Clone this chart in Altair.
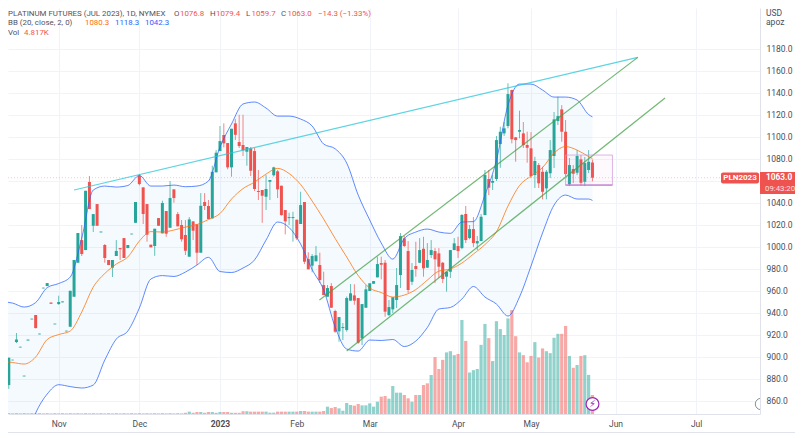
import altair as alt
import pandas as pd

opens = [904,885,874.5,897,913.6,908.7,882.4,915,934.2,938.2,
920.6,962.4,964.5,949.5,929.7,948.1,949.7,923.3,927.5,954.8,
985.7,1006.3,997.2,1059.1,1019.3,1039,1013.3,1001.8,988.2,981.2,
991.8,999,1008.1,999,1011.5,1022,1064.8,1054.2,1039,1002.1,
1000.9,1026.3,1012.4,1032.7,1017.5,1052.4,1029.9,1020,1010.9,991.2,
1023.3,1020.6,994.8,1040.9,1037.3,1026,1067.9,1087.2,1101.8,1094.5,
1072.4,1112.4,1095.4,1092.7,1086.6,1089.7,1087.2,1050.9,1051.8,1045.7,
1059.3,1065.2,1068.8,1055.7,1033.6,1026.3,1026.3,1024.8,1020.9,1040.9,
989,983,987,983.6,965.4,954.8,964.5,941.8,923.3,926.3,
924.5,951.2,956,953.6,917,944.8,960,966.6,972.4,985.4,
985.7,938.1,943.3,951.8,974.5,1007.9,996.3,968.4,982.7,985.7,
998.4,981.2,992.7,996.3,994.2,985.7,973,977.5,997.2,1000.9,
999,1030,1008.1,1016.3,1003.3,1005.4,1029,1061.8,1058.4,1061.8,
1093.6,1103.3,1110,1142.7,1099.7,1104.8,1103.3,1092.7,1089.7,1065.4,
1074.5,1068.4,1053.3,1067,1082.7,1114.5,1125.1,1104.8,1057,1070.9,
1067.5,1079.7,1059.3,1070,1076.8]
highs = [904,885.5,899.5,897.5,921.8,909.3,883,915.8,934.8,938.2,
921.2,963,967.2,949.5,930.3,955.7,950.5,923.9,960.2,988.2,
1012.7,1020,1051.1,1064.5,1029.9,1039,1014,1002.7,988.2,988.2,
1006.3,999,1008.1,1001.8,1012.1,1040.9,1066.3,1054.2,1039,1002.1,
1016.6,1026.3,1042.1,1032.7,1060,1052.4,1031.8,1024.5,1024.5,1027.2,
1023.3,1020.6,1049,1049,1042.7,1073.9,1088.1,1110,1112.4,1094.5,
1107.5,1116.3,1120.2,1120.2,1090.9,1090.9,1090,1070,1051.8,1065.4,
1060.9,1073,1070,1055.7,1033.6,1031.2,1032,1024.8,1050.2,1040.9,
995.2,993.6,1000.9,994.8,977.5,965.4,967.2,943,936.3,930.9,
955,966.3,966.1,953.6,948.1,965.4,967,969,991.2,991.2,
988.2,951.8,954.3,980.9,1012.7,1010,1005.4,985.4,1004.8,1008.1,
1009.3,1003.6,1006.3,999,999,986.3,977.5,997.2,1008.1,1009.3,
1030,1037.3,1020,1027.2,1010,1030,1070,1070,1065.4,1100.9,
1109.3,1113.6,1148.8,1143,1100,1123.9,1113.6,1104.8,1104.5,1082,
1076.3,1073,1070,1097.2,1122.7,1136.6,1129,1115.4,1080.9,1074.5,
1088.1,1083.6,1081.8,1088.1,1079.4]
lows = [903,885,871,897,912.7,908.7,882.4,915,934.2,926,
920.6,962.4,964.5,948.4,929.7,947.5,949.7,923.3,927.5,954.8,
985.7,991.8,997.2,1034.5,1013.6,1019.3,1013.3,985.7,983.6,972.7,
991.8,988.2,990,999,1011.5,1022,1056,1020.9,1004.8,999.7,
992,1019.3,1012.4,1009.3,1017.5,1040.2,1018.8,1004.8,992.7,991.2,
1006.3,983.6,994.8,1033.6,1025.4,1026,1067.9,1087.2,1090.6,1070.6,
1063.9,1097.2,1090,1082.7,1073.9,1064.5,1050.9,1042.7,1022,1033.6,
1042.7,1064,1044.5,1028.5,1011.5,1020,1004.8,1006.3,1020.9,984.5,
979.7,977,987,967.2,956.3,954.8,944.8,922,913.9,915.4,
923,951.2,947.5,912,910.9,944.8,960,966.6,972.4,970.6,
936.6,937.3,940,944.5,962.7,1000,958.2,965.4,973,985.4,
973,980.9,990,967.2,971.8,967.2,959.4,971.8,997.2,990,
998,1003.6,1007,1000,997.2,1005.4,1029,1047.2,1051.8,1060,
1072,1101,1108,1094.2,1077.5,1098.8,1090,1076.6,1062.7,1053.6,
1053.6,1043.3,1043.3,1062.7,1071.8,1110.9,1095.7,1062.7,1055.4,1058.1,
1065.4,1056,1055.4,1067.2,1059.7]
closes = [903,885.5,899.3,897.5,915.9,909.3,883,915.8,934.8,926.3,
921.2,963,967.2,948.4,930.3,950,950.5,923.9,960.2,988.2,
1012.7,993.6,1051.1,1034.5,1029.9,1019.3,1014,990,983.6,988.2,
996.4,998,990,1001.8,1012.1,1040.9,1057.2,1030,1011.2,999.7,
1016.6,1019.3,1040,1012.1,1044.5,1044.5,1018.8,1007,996.6,1025.1,
1014.8,994.8,1037.5,1037.3,1025.4,1068.4,1085.7,1096.3,1094.2,1072.4,
1107.5,1102,1091.8,1087.9,1090.9,1069.3,1052.7,1050,1046.6,1052.7,
1060.9,1072.4,1052.4,1029,1023.3,1027.2,1027.2,1007.9,1038.1,986.6,
979.7,991.8,992.4,970,956.3,962.7,944.8,923,936.3,927.2,
953.6,957.9,951.2,913,948.1,961.5,967,969,984.5,983.9,
941.2,945.4,954.3,965.4,1009.9,1000.9,960.9,979.1,980,997.2,
980.6,988.2,997.2,988.8,982.1,970.9,977.5,997.2,1003.3,996.3,
1029.1,1006.3,1016.3,1003.6,1005.4,1027.5,1065.4,1053.9,1060,1097.2,
1104.8,1107.9,1139,1097.9,1097.2,1106.3,1092.7,1090.2,1064.5,1078.2,
1057.9,1050.2,1068.4,1088.1,1116,1119,1104.8,1066.3,1074.5,1066.6,
1082.7,1058.4,1076.3,1077.5,1063]
volumes = [.2,.15,.2,.15,.2,.15,.2,.15,.2,.15,
.2,.15,.2,.15,.2,.15,.2,.15,.2,.15,
.2,.15,.2,.15,.2,.15,.2,.15,.2,.15,
.2,.15,.2,.15,.2,.15,.2,.15,.2,.15,
.2,.15,.2,.15,.2,.15,.2,.15,.3,.6,
.3,.5,.5,.3,.5,.5,.3,.5,.5,.5,
.3,.3,.3,.7,.7,.6,.6,.6,.6,.6,
.34,.34,.6,.6,.6,.6,.6,.6,.76,.76,
.6,.6,.6,.6,.76,1.86,1.5,1.77,1.43,.84,
2.78,2.28,2.11,2.53,2.19,2.19,2.7,1.86,3.12,4.39,
4.56,3.88,7.09,5.4,5.4,4.81,3.97,3.12,4.81,4.81,
7.34,7.76,9.87,14.4,11.4,13.7,15.6,15.9,14.9,15.2,
23.8,18.5,10.5,11.1,11.4,17.5,22.8,19.2,13.4,23.5,
21.5,20,24.2,26.3,19.7,15.6,14.9,13.1,14.7,18.2,
14.3,16.6,15.9,15.4,19.3,20.3,20.3,22.3,14.7,11.7,
12.4,14.7,14.9,9.9,4.817]
# volume colour of the last 70 bars (u = teal, d = red)
vol_dirs_list = ("u d d u u u u d d u u u u u d d u u u u d d u d u d d u d d d u u u d u d u u u u u d u u u u u d d u d d d u d "
                 "d u u u u d d u d u d u u d").split()

bb_index = list(range(0, 154, 3)) + [154]
bb_upper = [950.4,949,945.4,949.5,963.1,966.8,972.7,1008.1,1051.8,1055.4,1054.5,1055.9,1065,
1055.4,1055.4,1056.3,1054.8,1055.4,1060,1090.9,1111.8,1130,1131.8,1126.3,1119,1119,1116.3,
1110,1093.6,1089.3,1076.3,1047.2,1024.5,1003.6,989,1007.7,1013.6,1016.3,1013.6,1012.4,
1022.7,1023.1,1047.2,1079,1129,1148.1,1148.1,1142.7,1136.3,1136.3,1133.6,1120.4,1118.3]
bb_lower = [797.2,806.3,820,849,866.3,874.8,873.1,871.8,874.5,897.2,916.3,923.6,944.5,970.9,
974,973.2,977.2,983.6,990.6,977.7,976.8,980.9,988.2,1006.3,1022.7,1017.7,1002.7,979.5,960.9,
927.2,907.2,905.4,915.4,915,915.9,909.5,914.5,926.8,943.6,945,952.7,964.1,954.5,948.1,937.2,
954.5,982.7,1012.7,1038.1,1047.2,1043.6,1043.6,1042.3]
bb_basis = [896.3,895,893.6,900,915.9,920.4,923.6,940.9,963.6,975.9,984.5,990.9,1005.4,1014,
1013.6,1015.4,1018.1,1020.4,1025,1030.4,1043.6,1053.1,1059,1066.3,1071.5,1066.8,1056.8,1041.8,
1025.4,1007.7,990.9,974,962.7,958.6,954.5,956.3,961.3,969.9,978.1,980,985.4,993.6,1002.2,
1013.9,1037.2,1055.9,1064.5,1072.2,1085.4,1091.3,1088.1,1082.2,1080.3]

month_ticks = [15, 36, 57, 77, 96, 119, 138, 160, 181]
month_names = ["Nov", "Dec", "2023", "Feb", "Mar", "Apr", "May", "Jun", "Jul"]
price_ticks = list(range(860, 1200, 20))

UP, DOWN = "#26a69a", "#ef5350"
GRID = "#f0f3fa"
FONT = "Roboto"
W, H = 752, 406
X_DOM = [1.797, 197.63]
Y_DOM = [848.18, 1217.27]

n = len(opens)
dirs = ["u" if closes[i] >= opens[i] else "d" for i in range(n)]
vol_dirs = dirs[:n - len(vol_dirs_list)] + vol_dirs_list
candles = pd.DataFrame({"i": range(n), "o": opens, "h": highs, "l": lows, "c": closes,
                        "v": volumes, "dir": dirs, "vdir": vol_dirs})
bb = pd.DataFrame({"i": bb_index, "u": bb_upper, "l": bb_lower, "b": bb_basis})

x_scale = alt.Scale(domain=X_DOM, nice=False, zero=False)
y_scale = alt.Scale(domain=Y_DOM, nice=False, zero=False)
col_scale = alt.Scale(domain=["u", "d"], range=[UP, DOWN])

label_expr = "{" + ",".join(f"'{t}':'{m}'" for t, m in zip(month_ticks, month_names)) + "}[datum.value]"
x_axis = alt.Axis(values=month_ticks, labelExpr=label_expr, grid=True, gridColor=GRID, gridWidth=1,
                  domainColor="#dfe2ea", ticks=False, title=None, labelColor="#4a4e59",
                  labelFontSize=8.5, labelFont=FONT, labelPadding=5, labelFlush=False,
                  labelFontWeight={"condition": {"test": "datum.value==57", "value": "bold"}, "value": "normal"})
y_axis = alt.Axis(orient="right", values=price_ticks, format=".1f", grid=True, gridColor=GRID, gridWidth=1,
                  domainColor="#dfe2ea", ticks=False, title=None, labelColor="#4a4e59",
                  labelFontSize=8.5, labelFont=FONT, labelPadding=6)
X = alt.X("i:Q", scale=x_scale, axis=x_axis)
def Y(f):
    return alt.Y(f, scale=y_scale, axis=y_axis)

vol = alt.Chart(candles).transform_calculate(
    vp=f"{Y_DOM[0]} + datum.v * 3.95 / 1.1"
).mark_rule(strokeWidth=3.2, opacity=0.5, clip=True).encode(
    x=X, y=Y("vp:Q"), y2=alt.value(H),
    color=alt.Color("vdir:N", scale=col_scale, legend=None))

band = alt.Chart(bb).mark_area(color="#2196f3", opacity=0.045, clip=True, interpolate="monotone").encode(
    x=X, y=Y("u:Q"), y2="l:Q")
def bb_line(f, col):
    return alt.Chart(bb).mark_line(color=col, strokeWidth=1, opacity=0.75, clip=True,
                                   interpolate="monotone").encode(x=X, y=Y(f))
upper, lower = bb_line("u:Q", "#2962ff"), bb_line("l:Q", "#2962ff")
basis = bb_line("b:Q", "#ff6d00")

wick = alt.Chart(candles).mark_rule(strokeWidth=1, clip=True, opacity=0.7).encode(
    x=X, y=Y("h:Q"), y2="l:Q", color=alt.Color("dir:N", scale=col_scale, legend=None))
body = alt.Chart(candles).mark_rule(strokeWidth=3, clip=True).encode(
    x=X, y=Y("o:Q"), y2="c:Q", color=alt.Color("dir:N", scale=col_scale, legend=None))

def seg(x1, y1, x2, y2, color):
    df = pd.DataFrame({"i": [x1, x2], "p": [y1, y2]})
    return alt.Chart(df).mark_line(color=color, strokeWidth=1.2, opacity=0.75, clip=True).encode(x=X, y=Y("p:Q"))

trend_cyan = seg(19, 1051.8, 165.8, 1172.4, "#26c6da")
trend_up = seg(82.9, 951.8, 165.8, 1172.4, "#43a047")
trend_lo = seg(90, 905.4, 172.9, 1135.4, "#43a047")

box_df = pd.DataFrame({"i": [147], "i2": [159.2], "a": [1083.6], "b": [1056.3]})
box = alt.Chart(box_df).mark_rect(fill="#ce93d8", fillOpacity=0.05, stroke="#ce93d8", strokeWidth=1, strokeOpacity=0.7).encode(
    x=X, x2="i2:Q", y=Y("a:Q"), y2="b:Q")
box_base = alt.Chart(box_df).mark_rule(color="#ba68c8", strokeWidth=1).encode(x=X, x2="i2:Q", y=Y("b:Q"))

price_line = alt.Chart(pd.DataFrame({"p": [1063.0]})).mark_rule(
    color=DOWN, opacity=0.3, strokeDash=[1, 2], strokeWidth=1).encode(
    y=Y("p:Q"), x=alt.value(0), x2=alt.value(W))

def txt(s, x, y, color="#50535e", size=7.9, weight="normal", align="left", opacity=1.0, font=FONT):
    return alt.Chart().mark_text(text=s, align=align, baseline="middle", color=color, fontSize=size,
                                 fontWeight=weight, font=font, opacity=opacity).encode(
        x=alt.value(x), y=alt.value(y))

def rect(x1, x2, y1, y2, color, radius=2):
    return alt.Chart().mark_rect(color=color, cornerRadius=radius).encode(
        x=alt.value(x1), x2=alt.value(x2), y=alt.value(y1), y2=alt.value(y2))

LY = 5.5
texts = [
    txt("PLATINUM FUTURES (JUL 2023), 1D, NYMEX", 0, LY),
    txt("O", 166, LY), txt("1076.8", 172, LY, DOWN),
    txt("H", 202, LY), txt("1079.4", 208, LY, DOWN),
    txt("L", 238, LY), txt("1059.7", 243.5, LY, DOWN),
    txt("C", 273, LY), txt("1063.0", 279.5, LY, DOWN),
    txt("\u221214.3 (\u22121.33%)", 310, LY, DOWN),
    txt("BB (20, close, 2, 0)", 0, 15),
    txt("1080.3", 77, 15, "#ff6d00"), txt("1118.3", 107, 15, "#2962ff"), txt("1042.3", 137, 15, "#2962ff"),
    txt("Vol", 0, 25), txt("4.817K", 16, 25, DOWN),
    txt("USD", 758, 4.5, "#4a4e59", 8.5), txt("apoz", 758, 14, "#4a4e59", 8.5),
]
tags = [
    rect(713, 751, 164.5, 175.5, DOWN),
    rect(752, 787, 164, 186, DOWN, 0),
    txt("PLN2023", 732, 170, "white", 8, "bold", "center"),
    txt("1063.0", 758, 169.5, "white", 8.3, "bold"),
    txt("09:43:20", 757, 180.5, "white", 7.8, opacity=0.8),
]
bolt = alt.Chart().mark_point(shape="circle", filled=True, fill="white", stroke="#9c27b0", strokeWidth=1.2,
                              size=165, opacity=1).encode(x=alt.value(584.5), y=alt.value(396))
bolt_t = txt("\u26a1", 584.5, 396, "#9c27b0", 10, "normal", "center", font="DejaVu Sans")
edge = alt.Chart().mark_point(shape="circle", filled=True, fill="white", stroke="#8a8e99", strokeWidth=1,
                              size=130, opacity=1, clip=True).encode(x=alt.value(753), y=alt.value(396))
bottom = alt.Chart().mark_rule(color="#e0e3eb", strokeWidth=1).encode(
    x=alt.value(0), x2=alt.value(787), y=alt.value(424.5))

chart = alt.layer(vol, band, price_line, wick, body, upper, lower, basis,
                  trend_cyan, trend_up, trend_lo, box, box_base,
                  edge, bolt, bolt_t, *texts, *tags, bottom).properties(
    width=W, height=H,
    autosize=alt.AutoSizeParams(type="none"),
    padding={"left": 0, "top": 0, "right": 35, "bottom": 20},
).configure_view(stroke=None)

chart.save("out.html", embed_options={"renderer": "svg", "actions": False})
